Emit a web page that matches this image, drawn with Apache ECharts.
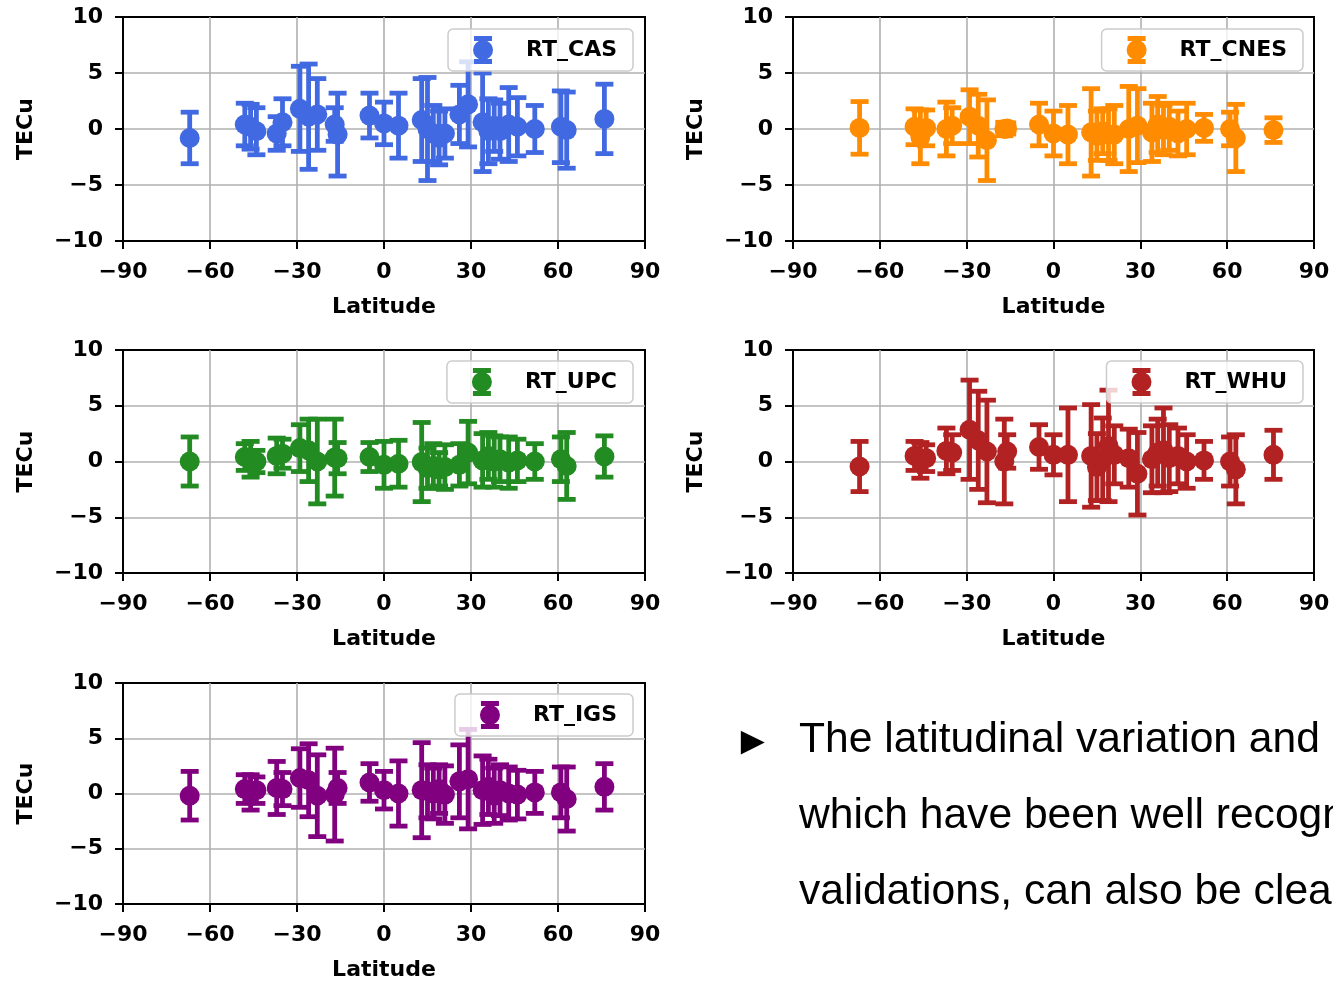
<!DOCTYPE html>
<html>
<head>
<meta charset="utf-8">
<title>RT TEC latitude</title>
<script src="https://cdn.jsdelivr.net/npm/echarts@6/dist/echarts.min.js"></script>
<style>
  html, body { margin: 0; padding: 0; background: #fff; }
  #chart { width: 1333px; height: 982px; }
</style>
</head>
<body>
<div id="chart"></div>
<script>
// station latitudes (deg), shared by all products
const latitudes = [-67, -48, -46, -44, -37, -35, -29, -26, -23, -17, -16, -5, 0, 5, 13, 15, 17, 19, 21, 26, 29, 34, 36, 38, 40, 43, 46, 52, 61, 63, 76];

// mean bias and std (TECu) per product
const casMean = [-0.8, 0.4, 0.2, -0.2, -0.4, 0.6, 1.8, 1.1, 1.3, 0.4, -0.5, 1.2, 0.5, 0.3, 0.8, 0.0, -0.4, -0.8, -0.4, 1.3, 2.2, 0.6, -0.2, 0.3, -0.2, 0.4, 0.2, 0.0, 0.2, -0.1, 0.9];
const casErr = [2.3, 1.9, 2.0, 2.1, 1.5, 2.1, 3.8, 4.7, 3.2, 1.5, 3.7, 2.0, 1.9, 2.9, 3.7, 4.6, 2.5, 2.4, 2.2, 2.6, 3.8, 4.4, 2.9, 2.3, 2.5, 3.3, 2.6, 2.1, 3.2, 3.4, 3.1];

const cnesMean = [0.1, 0.2, -0.7, 0.1, 0.0, 0.3, 1.1, 0.3, -1.0, 0.0, 0.05, 0.4, -0.4, -0.5, -0.3, -0.6, -0.2, -0.5, -0.5, 0.0, 0.3, -0.3, 0.4, -0.1, 0.2, -0.4, 0.0, 0.1, 0.0, -0.8, -0.1];
const cnesErr = [2.35, 1.6, 2.4, 1.6, 2.4, 1.6, 2.4, 2.8, 3.6, 0.6, 0.5, 1.9, 2.0, 2.6, 3.9, 2.2, 2.0, 2.3, 2.6, 3.8, 3.3, 2.6, 2.5, 2.2, 2.1, 2.0, 2.3, 1.2, 1.5, 3.0, 1.1];

const upcMean = [0.0, 0.4, 0.2, 0.0, 0.5, 0.7, 1.2, 1.0, 0.0, 0.35, 0.3, 0.4, -0.3, -0.2, -0.05, -0.6, -0.4, -0.7, -0.5, -0.3, 0.8, 0.1, 0.5, 0.0, 0.2, -0.1, 0.1, 0.0, 0.2, -0.4, 0.45];
const upcErr = [2.2, 1.2, 1.6, 1.0, 1.6, 1.3, 2.1, 2.8, 3.8, 3.45, 1.4, 1.3, 2.1, 2.1, 3.55, 1.8, 2.0, 1.5, 2.0, 1.9, 2.8, 2.4, 2.1, 2.3, 2.0, 2.3, 1.9, 1.6, 2.0, 3.0, 1.85];

const whuMean = [-0.45, 0.5, 0.1, 0.3, 0.95, 0.8, 2.85, 1.9, 0.9, 0.0, 0.9, 1.3, 0.6, 0.6, 0.5, -0.5, 0.2, 1.4, 0.6, 0.3, -1.1, 0.2, 0.8, 1.0, 0.3, 0.5, 0.0, 0.1, 0.0, -0.7, 0.6];
const whuErr = [2.25, 1.3, 1.6, 1.2, 2.05, 1.6, 4.45, 4.4, 4.6, 3.8, 1.5, 2.0, 1.8, 4.2, 4.6, 3.0, 3.7, 5.0, 2.6, 2.6, 3.7, 3.0, 3.0, 3.8, 3.0, 2.5, 2.4, 1.7, 2.2, 3.1, 2.2];

const igsMean = [-0.2, 0.4, 0.1, 0.3, 0.5, 0.4, 1.4, 1.2, -0.2, -0.1, 0.5, 1.0, 0.3, 0.0, 0.3, 0.2, 0.0, 0.4, -0.1, 1.1, 1.3, 0.3, 0.6, -0.2, 0.3, 0.0, -0.1, 0.1, 0.1, -0.5, 0.6];
const igsErr = [2.2, 1.3, 1.6, 1.2, 2.4, 1.5, 2.65, 3.3, 3.7, 4.2, 1.4, 1.7, 1.7, 2.95, 4.3, 2.4, 2.3, 2.2, 2.6, 3.3, 4.5, 3.1, 2.5, 2.5, 2.3, 2.4, 2.2, 1.9, 2.3, 2.9, 2.1];

const xTicks = { min: -90, max: 90, interval: 30 };
const yTicks = { min: -10, max: 10, interval: 5 };

const noteLines = [
  'The latitudinal variation and',
  'which have been well recogn',
  'validations, can also be clea'
];

// 面板布局
const panels = [
  { name: 'RT_CAS', color: '#4169e1', mean: casMean, err: casErr, grid: { left: 123, top: 17, width: 522, height: 224 }, legend: { right: 700, top: 29 } },
  { name: 'RT_CNES', color: '#ff8c00', mean: cnesMean, err: cnesErr, grid: { left: 793, top: 17, width: 521, height: 224 }, legend: { right: 30, top: 29 } },
  { name: 'RT_UPC', color: '#228b22', mean: upcMean, err: upcErr, grid: { left: 123, top: 350, width: 522, height: 223 }, legend: { right: 700, top: 361 } },
  { name: 'RT_WHU', color: '#b22222', mean: whuMean, err: whuErr, grid: { left: 793, top: 350, width: 521, height: 223 }, legend: { right: 30, top: 361 } },
  { name: 'RT_IGS', color: '#800080', mean: igsMean, err: igsErr, grid: { left: 123, top: 683, width: 522, height: 223 }, legend: { right: 700, top: 694 } }
];

const FONT = '"DejaVu Sans", sans-serif';
const errIcon = 'path://M1,0h18v5h-18z M7.5,0h5v28h-5z M1,23h18v5h-18z M0,14a10,10 0 1,1 20,0a10,10 0 1,1 -20,0z';

function minusFmt(v) {
  return v < 0 ? '\u2212' + Math.abs(v) : String(v);
}

// 误差棒：竖线 + 上下帽 + 圆点
function errorBarRenderer(color) {
  return function (params, api) {
    const x = api.value(0), m = api.value(1), e = api.value(2);
    const mid = api.coord([x, m]);
    const top = api.coord([x, m + e]);
    const bot = api.coord([x, m - e]);
    const cap = 9, lw = 4.8;
    const st = { stroke: color, lineWidth: lw };
    return {
      type: 'group',
      children: [
        { type: 'line', shape: { x1: mid[0], y1: top[1], x2: mid[0], y2: bot[1] }, style: st },
        { type: 'line', shape: { x1: mid[0] - cap, y1: top[1], x2: mid[0] + cap, y2: top[1] }, style: st },
        { type: 'line', shape: { x1: mid[0] - cap, y1: bot[1], x2: mid[0] + cap, y2: bot[1] }, style: st },
        { type: 'circle', shape: { cx: mid[0], cy: mid[1], r: 10 }, style: { fill: color } }
      ]
    };
  };
}

const axisText = { color: '#000', fontFamily: FONT, fontWeight: 'bold', fontSize: 22 };
const gridLine = { show: true, showMinLine: false, showMaxLine: false, lineStyle: { color: '#b0b0b0', width: 1.6 } };

const option = {
  animation: false,
  backgroundColor: '#fff',
  grid: panels.map(p => Object.assign({
    show: true, borderColor: '#000', borderWidth: 2, backgroundColor: 'transparent'
  }, p.grid)),
  xAxis: panels.map((p, i) => ({
    type: 'value',
    gridIndex: i,
    min: xTicks.min, max: xTicks.max, interval: xTicks.interval,
    name: 'Latitude',
    nameLocation: 'middle',
    nameGap: 55,
    nameTextStyle: axisText,
    axisLine: { show: true, onZero: false, lineStyle: { color: '#000', width: 2 } },
    axisTick: { show: true, length: 8, lineStyle: { color: '#000', width: 2 } },
    axisLabel: Object.assign({ margin: 20, formatter: minusFmt, showMinLabel: true, showMaxLabel: true }, axisText),
    splitLine: gridLine
  })),
  yAxis: panels.map((p, i) => ({
    type: 'value',
    gridIndex: i,
    min: yTicks.min, max: yTicks.max, interval: yTicks.interval,
    name: 'TECu',
    nameLocation: 'middle',
    nameGap: 86,
    nameRotate: 90,
    nameTextStyle: axisText,
    axisLine: { show: true, onZero: false, lineStyle: { color: '#000', width: 2 } },
    axisTick: { show: true, length: 8, lineStyle: { color: '#000', width: 2 } },
    axisLabel: Object.assign({ margin: 20, formatter: minusFmt, showMinLabel: true, showMaxLabel: true }, axisText),
    splitLine: gridLine
  })),
  legend: panels.map(p => ({
    data: [{ name: p.name, icon: errIcon }],
    right: p.legend.right,
    top: p.legend.top,
    orient: 'vertical',
    itemWidth: 20,
    itemHeight: 28,
    padding: [7, 16, 7, 25],
    backgroundColor: 'rgba(255,255,255,0.8)',
    borderColor: '#cccccc',
    borderWidth: 1.5,
    borderRadius: 5,
    selectedMode: false,
    textStyle: { color: '#000', fontFamily: FONT, fontWeight: 'bold', fontSize: 22, padding: [0, 0, 0, 28] }
  })),
  series: panels.map((p, i) => ({
    type: 'custom',
    name: p.name,
    xAxisIndex: i,
    yAxisIndex: i,
    itemStyle: { color: p.color },
    renderItem: errorBarRenderer(p.color),
    encode: { x: 0, y: 1 },
    data: latitudes.map((lat, k) => [lat, p.mean[k], p.err[k]])
  })),
  graphic: [
    { type: 'text', x: 733, y: 743, style: { text: '\u25BA', font: '40px "Liberation Sans"', fill: '#000', textVerticalAlign: 'middle' } }
  ].concat(noteLines.map((t, k) => ({
    type: 'text',
    x: 799,
    y: 740 + k * 76,
    style: { text: t, font: '42.6px "Liberation Sans"', fill: '#000', textVerticalAlign: 'middle' }
  })))
};

const chart = echarts.init(document.getElementById('chart'));
chart.setOption(option);
</script>
</body>
</html>
